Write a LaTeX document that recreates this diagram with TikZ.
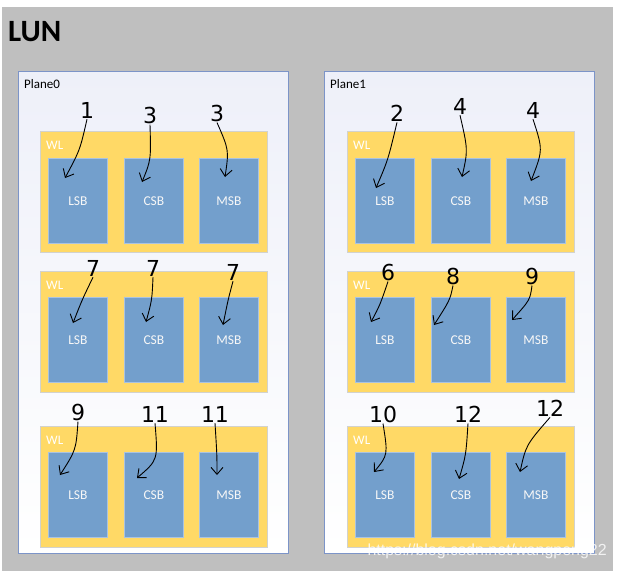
\documentclass[tikz,border=0pt]{standalone}
\usepackage{fontspec}
\setmainfont{Carlito}
\newfontfamily\handfont{DejaVu Sans}
\usetikzlibrary{arrows.meta,calc}
\definecolor{lungray}{RGB}{191,191,191}
\definecolor{planeedge}{RGB}{124,148,200}
\definecolor{planetop}{RGB}{238,240,249}
\definecolor{wlfill}{RGB}{255,217,102}
\definecolor{wledge}{RGB}{210,210,205}
\definecolor{bitfill}{RGB}{115,159,204}
\definecolor{bitedge}{RGB}{170,195,225}
\tikzset{
  planebox/.style={draw=planeedge, line width=1pt, top color=planetop, bottom color=white, anchor=north west, inner sep=0pt, minimum width=270pt, minimum height=482pt},
  wlbox/.style={draw=wledge, line width=0.8pt, fill=wlfill, anchor=north west, inner sep=0pt, minimum width=227pt, minimum height=121pt},
  bitbox/.style={draw=bitedge, line width=0.8pt, fill=bitfill, anchor=north west, inner sep=0pt, minimum width=59pt, minimum height=85pt},
  bitlabel/.style={text=white!94!gray, font=\fontsize{13.5}{15}\selectfont},
  wllabel/.style={text=white, font=\fontsize{13}{15}\selectfont, anchor=west, inner sep=0pt},
  planelabel/.style={text=black, font=\fontsize{13}{15}\selectfont, anchor=west, inner sep=0pt},
  hand/.style={font=\handfont\fontsize{22}{24}\selectfont, inner sep=1pt},
  scribble/.style={draw=black, line width=0.9pt, -{Straight Barb[length=7pt,width=12pt]}},
}
\begin{document}
\begin{tikzpicture}[x=1pt,y=-1pt]
\useasboundingbox (0,0) rectangle (617,571);
\fill[white] (0,0) rectangle (617,571);
\fill[lungray] (2,7) rectangle (613,571);
\node[anchor=west, inner sep=0pt, font=\bfseries\fontsize{31}{34}\selectfont] (lun) at (8,32) {LUN};

% planes
\node[planebox] (p0) at (18,71) {};
\node[planebox] (p1) at (324,71) {};
\node[planelabel] (p0l) at (24,84) {Plane0};
\node[planelabel] (p1l) at (330,84) {Plane1};

% word lines and bits
\foreach \p/\px/\bx in {0/40/48, 1/347/355} {
  \foreach \r/\wy/\by in {1/131/158, 2/271/297, 3/426/452} {
    \node[wlbox] (wl\p\r) at (\px,\wy) {};
    \node[wllabel] (wl\p\r l) at (\px+6,\wy+14) {WL};
    \node[bitbox] (lsb\p\r) at (\bx,\by) {};
    \node[bitbox] (csb\p\r) at (\bx+76,\by) {};
    \node[bitbox] (msb\p\r) at (\bx+151,\by) {};
    \node[bitlabel] at (lsb\p\r) {LSB};
    \node[bitlabel] at (csb\p\r) {CSB};
    \node[bitlabel] at (msb\p\r) {MSB};
  }
}

% handwritten order numbers
\node[hand] (a1) at (87,110) {1};
\node[hand] (a2) at (150,115) {3};
\node[hand] (a3) at (217,113) {3};
\node[hand] (b1) at (397,113) {2};
\node[hand] (b2) at (460,106) {4};
\node[hand] (b3) at (533,110) {4};
\node[hand] (a4) at (93,268) {7};
\node[hand] (a5) at (153,268) {7};
\node[hand] (a6) at (233,272) {7};
\node[hand] (b4) at (388,272) {6};
\node[hand] (b5) at (453,276) {8};
\node[hand] (b6) at (532,276) {9};
\node[hand] (a7) at (78,412) {9};
\node[hand] (a8) at (155,414) {11};
\node[hand] (a9) at (215,414) {11};
\node[hand] (b7) at (383,414) {10};
\node[hand] (b8) at (468,414) {12};
\node[hand] (b9) at (550,408) {12};

% arrow end points inside the bit boxes
\coordinate (e01a) at ($(lsb01.north west)+(17,20)$);
\coordinate (e01b) at ($(csb01.north west)+(18,24)$);
\coordinate (e01c) at ($(msb01.north west)+(26,19)$);
\coordinate (e11a) at ($(lsb11.north west)+(21,30)$);
\coordinate (e11b) at ($(csb11.north west)+(31,19)$);
\coordinate (e11c) at ($(msb11.north west)+(25,23)$);
\coordinate (e02a) at ($(lsb02.north west)+(25,26)$);
\coordinate (e02b) at ($(csb02.north west)+(22,25)$);
\coordinate (e02c) at ($(msb02.north west)+(24,28)$);
\coordinate (e12a) at ($(lsb12.north west)+(16,25)$);
\coordinate (e12b) at ($(csb12.north west)+(3,28)$);
\coordinate (e12c) at ($(msb12.north west)+(6,23)$);
\coordinate (e03a) at ($(lsb03.north west)+(12,23)$);
\coordinate (e03b) at ($(csb03.north west)+(13,26)$);
\coordinate (e03c) at ($(msb03.north west)+(18,23)$);
\coordinate (e13a) at ($(lsb13.north west)+(19,20)$);
\coordinate (e13b) at ($(csb13.north west)+(28,27)$);
\coordinate (e13c) at ($(msb13.north west)+(14,20)$);

% arrows
\draw[scribble] (a1.south) .. controls (80,150) .. (e01a);
\draw[scribble] (a2.south) .. controls (151,160) .. (e01b);
\draw[scribble] (a3.south) .. controls (229,150) .. (e01c);
\draw[scribble] (b1.south) .. controls (388,160) .. (e11a);
\draw[scribble] (b2.south) .. controls (468,150) .. (e11b);
\draw[scribble] (b3.south) .. controls (543,150) .. (e11c);
\draw[scribble] (a4.south) .. controls (82,300) .. (e02a);
\draw[scribble] (a5.south) .. controls (152,300) .. (e02b);
\draw[scribble] (a6.south) .. controls (228,300) .. (e02c);
\draw[scribble] (b4.south) .. controls (380,305) .. (e12a);
\draw[scribble] (b5.south) .. controls (450,300) .. (e12b);
\draw[scribble] (b6.south) .. controls (530,300) .. (e12c);
\draw[scribble] (a7.south) .. controls (76,450) .. (e03a);
\draw[scribble] (a8.south) .. controls (158,460) .. (e03b);
\draw[scribble] (a9.south) .. controls (217,455) .. (e03c);
\draw[scribble] (b7.south) .. controls (388,455) .. (e13a);
\draw[scribble] (b8.south) .. controls (466,455) .. (e13b);
\draw[scribble] (b9.south) .. controls (526,445) .. (e13c);

% watermark
\node[anchor=east, inner sep=0pt, text=white, opacity=0.8, font=\fontspec{Liberation Sans}\fontsize{16}{18}\selectfont] (wm) at (607,551) {https://blog.csdn.net/wangpeng22};
\end{tikzpicture}
\end{document}
